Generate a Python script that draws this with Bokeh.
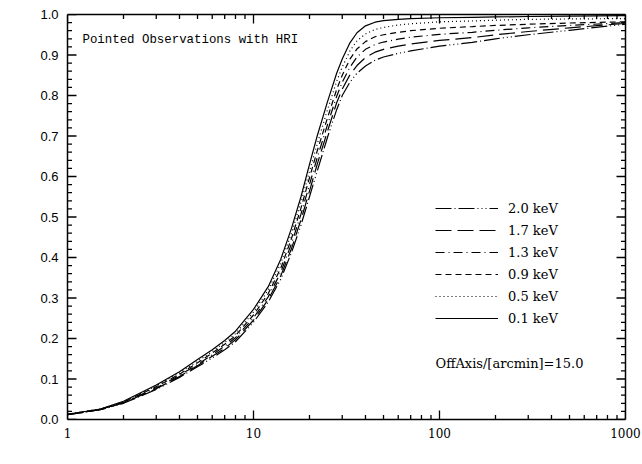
import math
import numpy as np
from bokeh.plotting import figure
from bokeh.embed import file_html
from bokeh.resources import INLINE
from bokeh.models import (Legend, LegendItem, Label, LogAxis, LinearAxis, LogTicker,
                          SingleIntervalTicker, Range1d, PrintfTickFormatter)

# ---------------- data ----------------
angle = [1, 1.5, 2, 3, 4, 5, 6, 7, 8, 10, 12, 14, 16, 18, 20, 22, 25, 28, 30, 33,
         36, 40, 45, 50, 60, 70, 100, 150, 200, 300, 500, 1000]

psf_01 = [0.013, 0.026, 0.045, 0.085, 0.118, 0.148, 0.172, 0.195, 0.218, 0.272, 0.328, 0.395,
          0.472, 0.55, 0.63, 0.70, 0.785, 0.855, 0.89, 0.93, 0.955, 0.972, 0.981, 0.985,
          0.988, 0.99, 0.992, 0.993, 0.994, 0.995, 0.996, 0.997]
psf_05 = [0.013, 0.026, 0.044, 0.083, 0.115, 0.144, 0.168, 0.19, 0.212, 0.265, 0.32, 0.385,
          0.46, 0.537, 0.613, 0.68, 0.765, 0.835, 0.87, 0.91, 0.935, 0.952, 0.963, 0.968,
          0.974, 0.977, 0.982, 0.984, 0.986, 0.988, 0.989, 0.99]
psf_09 = [0.013, 0.025, 0.043, 0.081, 0.112, 0.14, 0.164, 0.186, 0.207, 0.258, 0.311, 0.373,
          0.447, 0.522, 0.597, 0.663, 0.745, 0.815, 0.85, 0.89, 0.915, 0.933, 0.945, 0.95,
          0.956, 0.96, 0.966, 0.97, 0.973, 0.976, 0.979, 0.982]
psf_13 = [0.012, 0.025, 0.042, 0.078, 0.109, 0.136, 0.16, 0.181, 0.202, 0.251, 0.303, 0.363,
          0.434, 0.507, 0.58, 0.646, 0.728, 0.798, 0.833, 0.87, 0.895, 0.914, 0.926, 0.932,
          0.939, 0.944, 0.951, 0.956, 0.961, 0.967, 0.973, 0.98]
psf_17 = [0.012, 0.024, 0.041, 0.076, 0.106, 0.133, 0.156, 0.176, 0.197, 0.245, 0.296, 0.354,
          0.422, 0.493, 0.564, 0.63, 0.712, 0.782, 0.816, 0.851, 0.874, 0.894, 0.907, 0.914,
          0.922, 0.927, 0.936, 0.943, 0.95, 0.958, 0.967, 0.978]
psf_20 = [0.012, 0.024, 0.04, 0.074, 0.104, 0.13, 0.152, 0.172, 0.192, 0.24, 0.29, 0.346,
          0.412, 0.48, 0.55, 0.613, 0.697, 0.765, 0.8, 0.833, 0.855, 0.873, 0.887, 0.895,
          0.904, 0.91, 0.922, 0.931, 0.94, 0.95, 0.961, 0.976]

labels = ["0.1 keV", "0.5 keV", "0.9 keV", "1.3 keV", "1.7 keV", "2.0 keV"]
series = [psf_01, psf_05, psf_09, psf_13, psf_17, psf_20]
dashes = ["solid", "1 3", "6 4", "9 4 1 4", "16 6", "16 3 1 3 16 3 1 3 1 3 1 3"]

title_text = "Pointed Observations with HRI"
offaxis_text = "OffAxis/[arcmin]=15.0"
x_label = "Angle/[arcsec]"
y_label = "Cumulative PSF"

# axis ranges and tick values
x_lo, x_hi = 1, 1000
y_lo, y_hi = 0.0, 1.0
x_major = [1, 10, 100, 1000]
x_minor = [k * 10 ** d for d in range(3) for k in range(2, 10)]
y_major = [round(0.1 * i, 2) for i in range(11)]
y_minor = [round(0.02 * i, 2) for i in range(51) if i % 5 != 0]

# ---------------- figure ----------------
FW, FH = 558, 405  # frame size in px
p = figure(width=642, height=464, x_axis_type="log",
           x_range=Range1d(x_lo, x_hi), y_range=Range1d(y_lo, y_hi),
           output_backend="svg", toolbar_location=None,
           min_border_left=67, min_border_right=17, min_border_top=14, min_border_bottom=45)
p.xgrid.grid_line_alpha = 0
p.ygrid.grid_line_alpha = 0

xa = p.xaxis[0]
xa.ticker = LogTicker(num_minor_ticks=10)
xa.formatter = PrintfTickFormatter(format="%d")
xa.major_label_text_font = "DejaVu Serif"
xa.major_label_text_font_size = "12px"
xa.major_label_text_color = "black"
xa.major_label_standoff = 8

ya = p.yaxis[0]
ya.ticker = SingleIntervalTicker(interval=0.1, num_minor_ticks=5)
ya.formatter = PrintfTickFormatter(format="%.1f")
ya.major_label_text_font = "Liberation Sans"
ya.major_label_text_font_size = "13px"
ya.major_label_text_color = "black"
ya.major_label_standoff = 9

top = LogAxis(ticker=LogTicker(num_minor_ticks=10))
top.major_label_text_font_size = "1px"
top.major_label_text_alpha = 0
top.major_label_standoff = 0
p.add_layout(top, "above")
right = LinearAxis(ticker=SingleIntervalTicker(interval=0.1, num_minor_ticks=5))
right.major_label_text_font_size = "1px"
right.major_label_text_alpha = 0
right.major_label_standoff = 0
p.add_layout(right, "right")

for ax in (xa, ya, top, right):
    ax.axis_line_width = 1.5
    ax.major_tick_in = 0
    ax.major_tick_out = 0
    ax.minor_tick_in = 0
    ax.minor_tick_out = 0

# inward ticks drawn as thin filled bars (tick positions from the tick lists above)
dec = math.log10(x_hi / x_lo)
TW = 1.3  # tick thickness in px

def ticks_x(vals, length_px):
    ly = (y_hi - y_lo) * length_px / FH
    hw = 10 ** (dec * TW / 2 / FW)
    v = np.array(vals, dtype=float)
    left, right_ = v / hw, v * hw
    p.quad(left=left, right=right_, bottom=np.full_like(v, y_lo), top=np.full_like(v, y_lo + ly),
           fill_color="black", line_color=None)
    p.quad(left=left, right=right_, bottom=np.full_like(v, y_hi - ly), top=np.full_like(v, y_hi),
           fill_color="black", line_color=None)

def ticks_y(vals, length_px):
    fac = 10 ** (dec * length_px / FW)
    hh = (y_hi - y_lo) * TW / 2 / FH
    v = np.array(vals, dtype=float)
    p.quad(left=np.full_like(v, x_lo), right=np.full_like(v, x_lo * fac), bottom=v - hh, top=v + hh,
           fill_color="black", line_color=None)
    p.quad(left=np.full_like(v, x_hi / fac), right=np.full_like(v, x_hi), bottom=v - hh, top=v + hh,
           fill_color="black", line_color=None)

ticks_x(x_major, 9)
ticks_x(x_minor, 4.5)
ticks_y(y_major, 9)
ticks_y(y_minor, 4.5)

renderers = []
for vals, dash in zip(series, dashes):
    r = p.line(angle, vals, line_color="black", line_width=1.2, line_dash=dash)
    renderers.append(r)

items = [LegendItem(label=lab, renderers=[r]) for lab, r in zip(labels, renderers)]
items = items[::-1]
legend = Legend(items=items, location=(368, 91), glyph_width=63, glyph_height=20,
                label_height=20, spacing=2, padding=0, margin=0, label_standoff=10,
                background_fill_alpha=0, border_line_alpha=0,
                label_text_font="DejaVu Serif", label_text_font_size="13px",
                label_text_color="black")
p.add_layout(legend)

p.add_layout(Label(x=1.204, y=0.936, text=title_text, text_font="Liberation Mono",
                   text_font_size="12.4px", text_align="left", text_baseline="middle",
                   text_color="black"))
p.add_layout(Label(x=95.2, y=0.138, text=offaxis_text, text_font="DejaVu Serif",
                   text_font_size="13px", text_align="left", text_baseline="middle",
                   text_color="black"))
p.add_layout(Label(x=31.62, y=0, y_offset=-31, text=x_label, text_font="DejaVu Serif",
                   text_font_size="14.5px", text_align="center", text_baseline="middle",
                   text_color="black"))
p.add_layout(Label(x=1, y=0.528, x_offset=-51, angle=math.pi / 2, text=y_label,
                   text_font="Liberation Serif", text_font_size="14.5px",
                   text_align="center", text_baseline="middle", text_color="black"))

open("out.html", "w").write(file_html(p, INLINE))
